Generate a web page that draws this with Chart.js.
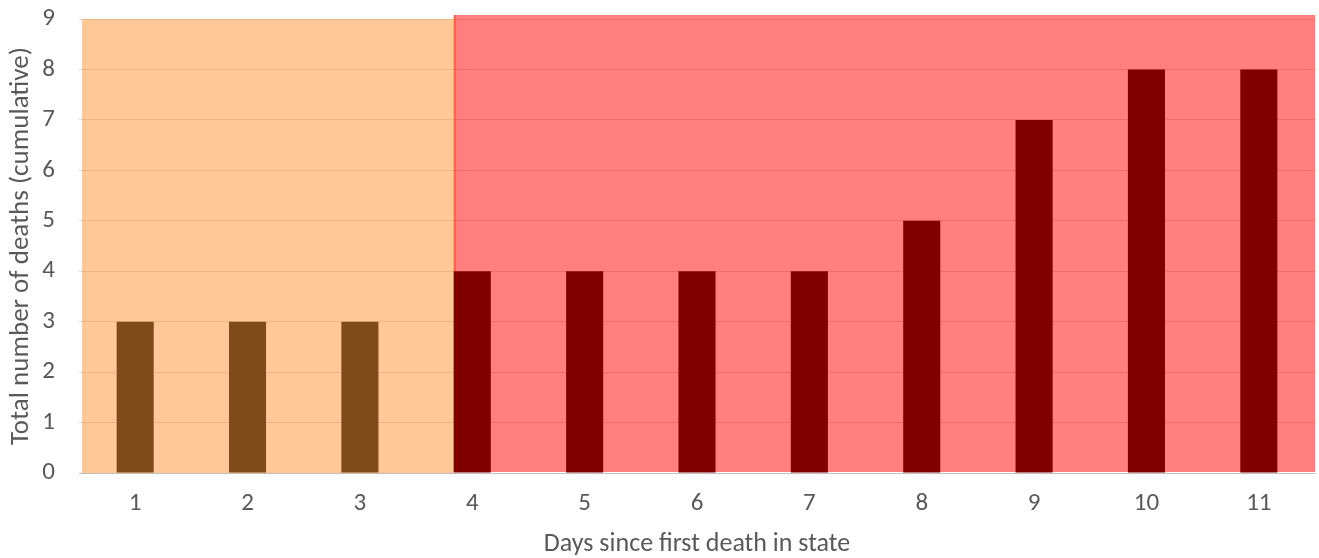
<!DOCTYPE html>
<html>
<head>
<meta charset="utf-8">
<script src="https://cdn.jsdelivr.net/npm/chart.js@4/dist/chart.umd.min.js"></script>
<style>
html,body{margin:0;padding:0;background:#fff;}
#wrap{width:1319px;height:558px;}
</style>
</head>
<body>
<div id="wrap"><canvas id="c" width="1319" height="558"></canvas></div>
<script>
const categories = ['1','2','3','4','5','6','7','8','9','10','11'];
const deaths = [3,3,3,4,4,4,4,5,7,8,8];
const yTicks = [0,1,2,3,4,5,6,7,8,9];
// shading zones: first category index, top value, fill colour, bar colour
const zoneStart = [0, 3];
const zoneTop = [9, 9.08];
const zoneFill = ['rgba(255,146,46,0.5)', 'rgba(255,0,0,0.5)'];
const zoneBar = ['#7f4b1a', '#800000'];
const xTitle = 'Days since first death in state';
const yTitle = 'Total number of deaths (cumulative)';

function zoneOf(i){ let z=0; for(let k=0;k<zoneStart.length;k++){ if(i>=zoneStart[k]) z=k; } return z; }
const barColors = deaths.map((_,i)=>zoneBar[zoneOf(i)]);

const FONT = 'Carlito, Lato, sans-serif';
const TXT = '#595959';

const shading = {
  id:'shading',
  beforeDatasetsDraw(chart){
    const {ctx, chartArea, scales} = chart;
    const meta = chart.getDatasetMeta(0);
    const y = scales.y;
    ctx.save();
    for(let k=0;k<zoneStart.length;k++){
      let x0;
      if(k===0) x0 = chartArea.left + 3;
      else { const el = meta.data[zoneStart[k]]; x0 = el.x - el.width/2; }
      let x1;
      if(k===zoneStart.length-1) x1 = chartArea.right;
      else { const el = meta.data[zoneStart[k+1]]; x1 = el.x - el.width/2; }
      const top = y.getPixelForValue(zoneTop[k]);
      const bot = y.getPixelForValue(0) - (k>0?1:0);
      ctx.fillStyle = zoneFill[k];
      ctx.fillRect(x0, top, x1-x0, bot-top);
      if(k>0){
        ctx.fillStyle='rgba(255,70,30,0.6)';
        ctx.fillRect(x0, top, 2, bot-top);
      }
    }
    ctx.restore();
  }
};

new Chart(document.getElementById('c'), {
  type:'bar',
  data:{
    labels:categories,
    datasets:[{
      data:deaths,
      backgroundColor:barColors,
      borderWidth:0,
      barPercentage:0.33,
      categoryPercentage:1
    }]
  },
  options:{
    responsive:false,
    animation:false,
    devicePixelRatio:1,
    layout:{padding:{left:0,right:4,top:19,bottom:0}},
    plugins:{legend:{display:false},tooltip:{enabled:false}},
    scales:{
      x:{
        grid:{display:false, drawTicks:false},
        border:{display:true,color:'#bfbfbf',width:1},
        ticks:{color:TXT,font:{family:FONT,size:25,lineHeight:1.2},padding:16},
        title:{display:true,text:xTitle,color:TXT,font:{family:FONT,size:26,lineHeight:1},padding:{top:0,bottom:1}},
        afterFit(s){ s.height = 85; s.paddingTop = 0; s.paddingBottom = 0; }
      },
      y:{
        min:0,max:9,
        afterBuildTicks(s){ s.ticks = yTicks.map(v=>({value:v})); },
        grid:{color:'#d9d9d9',drawTicks:false},
        border:{display:false},
        ticks:{color:TXT,font:{family:FONT,size:25,lineHeight:1},padding:24},
        title:{display:true,text:yTitle,color:TXT,font:{family:FONT,size:27,lineHeight:1.2},padding:{top:5,bottom:0}},
        afterFit(s){ s.width = 79; s.paddingTop = 0; s.paddingBottom = 0; }
      }
    }
  },
  plugins:[shading]
});
</script>
</body>
</html>
